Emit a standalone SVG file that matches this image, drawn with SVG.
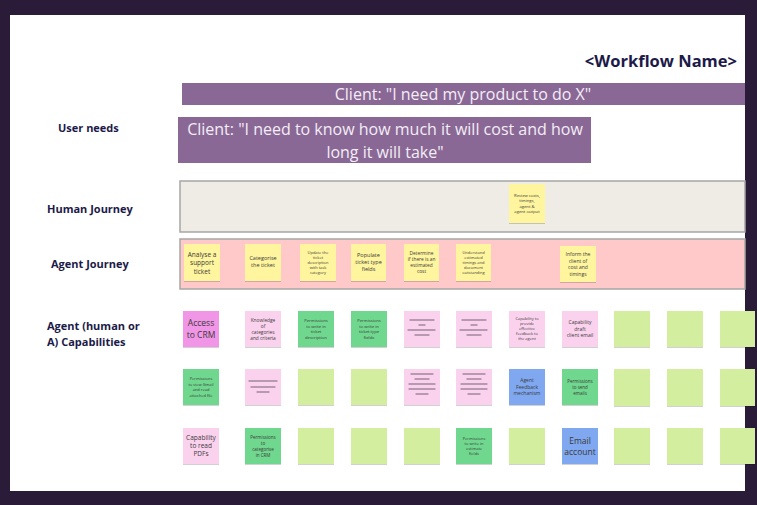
<svg xmlns="http://www.w3.org/2000/svg" width="757" height="505" viewBox="0 0 757 505">
<defs>
<filter id="sh" x="-10%" y="-10%" width="120%" height="130%"><feDropShadow dx="0" dy="1" stdDeviation="0.7" flood-color="#000" flood-opacity="0.18"/></filter>
</defs>
<style>
.lbl{font-family:"Open Sans","Liberation Sans",sans-serif;font-weight:700;font-size:11px;fill:#1c1a48}
.bar{fill:#8a6896}
.bt{font-family:"Open Sans","Liberation Sans",sans-serif;font-size:16px;fill:#f3edf5;text-anchor:middle}
.st{filter:url(#sh)}
.y{fill:#fff59e}.p{fill:#fbd2ee}.m{fill:#f195e6}.g{fill:#6fd78e}.lg{fill:#d3ee9f}.b{fill:#7fa8f0}
.t{font-family:"Open Sans","Liberation Sans",sans-serif;fill:#3a3a3a;text-anchor:middle}
.ln{stroke:#a3869f;stroke-width:1.3;stroke-linecap:round}
.band{stroke:#a6a6a6;stroke-width:1.5}
</style>
<rect x="0" y="0" width="757" height="505" fill="#2a1c38"/>
<rect x="10" y="15" width="735" height="476" fill="#ffffff"/>
<g id="title"><text x="737" y="67" style="font-family:'Open Sans','Liberation Sans',sans-serif;font-weight:700;font-size:16.5px;fill:#1c1a48;text-anchor:end">&lt;Workflow Name&gt;</text></g>
<g id="row-labels">
<text class="lbl" x="58" y="132">User needs</text>
<text class="lbl" x="47" y="213">Human Journey</text>
<text class="lbl" x="51" y="268">Agent Journey</text>
<text class="lbl" x="47" y="330">Agent (human or</text>
<text class="lbl" x="47" y="346">A) Capabilities</text>
</g>
<g id="need-1"><rect class="bar" x="182" y="83" width="563" height="22"/><text class="bt" x="463" y="100">Client: "I need my product to do X"</text></g>
<g id="need-2"><rect class="bar" x="178" y="117" width="413" height="46"/><text class="bt" x="385" y="135">Client: "I need to know how much it will cost and how</text><text class="bt" x="385" y="158">long it will take"</text></g>
<g id="human-journey-band"><rect class="band" x="180" y="181" width="565" height="51" fill="#efebe5"/></g>
<g id="agent-journey-band"><rect class="band" x="180" y="239" width="565" height="50" fill="#ffc9c9"/></g>
<g id="connectors"></g>
<g id="hj-review"><rect class="st y" x="509" y="184" width="36" height="39"/><text class="t" font-size="4.2"><tspan x="527" y="196.8">Review costs,</tspan><tspan x="527" y="202.3">timings,</tspan><tspan x="527" y="207.8">agent &amp;</tspan><tspan x="527" y="213.3">agent output</tspan></text></g>
<g id="aj-analyse"><rect class="st y" x="184" y="244" width="36" height="37"/><text class="t" font-size="6.5"><tspan x="202" y="256.5">Analyse a</tspan><tspan x="202" y="265">support</tspan><tspan x="202" y="273.5">ticket</tspan></text></g>
<g id="aj-categorise"><rect class="st y" x="245" y="244" width="36" height="37"/><text class="t" font-size="5.5"><tspan x="263" y="260">Categorise</tspan><tspan x="263" y="266.5">the ticket</tspan></text></g>
<g id="aj-update"><rect class="st y" x="300" y="244" width="36" height="37"/><text class="t" font-size="4"><tspan x="318" y="254">Update the</tspan><tspan x="318" y="259">ticket</tspan><tspan x="318" y="264">description</tspan><tspan x="318" y="269">with task</tspan><tspan x="318" y="274">category</tspan></text></g>
<g id="aj-populate"><rect class="st y" x="351" y="244" width="35" height="37"/><text class="t" font-size="5.5"><tspan x="368.5" y="257.4">Populate</tspan><tspan x="368.5" y="264.4">ticket type</tspan><tspan x="368.5" y="271.4">fields</tspan></text></g>
<g id="aj-determine"><rect class="st y" x="404" y="244" width="35" height="37"/><text class="t" font-size="4.8"><tspan x="421.5" y="255.2">Determine</tspan><tspan x="421.5" y="261.2">if there is an</tspan><tspan x="421.5" y="267.2">estimated</tspan><tspan x="421.5" y="273.2">cost</tspan></text></g>
<g id="aj-understand"><rect class="st y" x="456" y="244" width="35" height="37"/><text class="t" font-size="4"><tspan x="473.5" y="254">Understand</tspan><tspan x="473.5" y="259">estimated</tspan><tspan x="473.5" y="264">timings and</tspan><tspan x="473.5" y="269">document</tspan><tspan x="473.5" y="274">outstanding</tspan></text></g>
<g id="aj-inform"><rect class="st y" x="560" y="246" width="36" height="36"/><text class="t" font-size="5"><tspan x="578" y="256">Inform the</tspan><tspan x="578" y="262.5">client of</tspan><tspan x="578" y="269">cost and</tspan><tspan x="578" y="275.5">timings</tspan></text></g>
<g id="cap-r1c1"><rect class="st m" x="183" y="311" width="36" height="36"/><text class="t" font-size="8.5"><tspan x="201" y="325.8">Access</tspan><tspan x="201" y="337.6">to CRM</tspan></text></g>
<g id="cap-r1c2"><rect class="st p" x="245" y="311" width="36" height="36"/><text class="t" font-size="4.8"><tspan x="263" y="321.7">Knowledge</tspan><tspan x="263" y="327.7">of</tspan><tspan x="263" y="333.7">categories</tspan><tspan x="263" y="339.7">and criteria</tspan></text></g>
<g id="cap-r1c3"><rect class="st g" x="298" y="311" width="36" height="36"/><text class="t" font-size="4.2"><tspan x="316" y="322.2">Permissions</tspan><tspan x="316" y="327.7">to write in</tspan><tspan x="316" y="333.2">ticket</tspan><tspan x="316" y="338.7">description</tspan></text></g>
<g id="cap-r1c4"><rect class="st g" x="351" y="311" width="36" height="36"/><text class="t" font-size="4.2"><tspan x="369" y="322.2">Permissions</tspan><tspan x="369" y="327.7">to write in</tspan><tspan x="369" y="333.2">ticket type</tspan><tspan x="369" y="338.7">fields</tspan></text></g>
<g id="cap-r1c5"><rect class="st p" x="404" y="311" width="36" height="36"/><path class="ln" d="M410 320H434M419 325H425M408 330H435M415 335H429"/></g>
<g id="cap-r1c6"><rect class="st p" x="456" y="311" width="36" height="36"/><path class="ln" d="M462 320H486M471 325H477M460 330H487M467 335H481"/></g>
<g id="cap-r1c7"><rect class="st p" x="509" y="311" width="36" height="36"/><text class="t" font-size="4"><tspan x="527" y="320.4">Capability to</tspan><tspan x="527" y="325.4">provide</tspan><tspan x="527" y="330.4">effective</tspan><tspan x="527" y="335.4">feedback to</tspan><tspan x="527" y="340.4">the agent</tspan></text></g>
<g id="cap-r1c8"><rect class="st p" x="562" y="311" width="36" height="36"/><text class="t" font-size="5"><tspan x="580" y="324.2">Capability</tspan><tspan x="580" y="330.7">draft</tspan><tspan x="580" y="337.2">client email</tspan></text></g>
<g id="cap-r1c9"><rect class="st lg" x="614" y="311" width="36" height="36"/></g>
<g id="cap-r1c10"><rect class="st lg" x="667" y="311" width="36" height="36"/></g>
<g id="cap-r1c11"><rect class="st lg" x="720" y="311" width="35" height="36"/></g>
<g id="cap-r2c1"><rect class="st g" x="183" y="369" width="36" height="36"/><text class="t" font-size="4"><tspan x="201" y="380.2">Permissions</tspan><tspan x="201" y="385.7">to view Gmail</tspan><tspan x="201" y="391.2">and read</tspan><tspan x="201" y="396.7">attached file</tspan></text></g>
<g id="cap-r2c2"><rect class="st p" x="245" y="369" width="36" height="36"/><path class="ln" d="M249 381H277M251 387H275M257 392H269"/></g>
<g id="cap-r2c3"><rect class="st lg" x="298" y="369" width="36" height="36"/></g>
<g id="cap-r2c4"><rect class="st lg" x="351" y="369" width="36" height="36"/></g>
<g id="cap-r2c5"><rect class="st p" x="404" y="369" width="36" height="36"/><path class="ln" d="M411 374H433M415 379H429M409 384H435M409 389H435M416 394H428"/></g>
<g id="cap-r2c6"><rect class="st p" x="456" y="369" width="36" height="36"/><path class="ln" d="M463 374H485M467 379H481M461 384H487M461 389H487M468 394H480"/></g>
<g id="cap-r2c7"><rect class="st b" x="509" y="369" width="36" height="36"/><text class="t" font-size="5"><tspan x="527" y="382.2">Agent</tspan><tspan x="527" y="388.7">Feedback</tspan><tspan x="527" y="395.2">mechanism</tspan></text></g>
<g id="cap-r2c8"><rect class="st g" x="562" y="369" width="36" height="36"/><text class="t" font-size="4.5"><tspan x="580" y="382.6">Permissions</tspan><tspan x="580" y="388.6">to send</tspan><tspan x="580" y="394.6">emails</tspan></text></g>
<g id="cap-r2c9"><rect class="st lg" x="614" y="369" width="36" height="37"/></g>
<g id="cap-r2c10"><rect class="st lg" x="667" y="369" width="36" height="37"/></g>
<g id="cap-r2c11"><rect class="st lg" x="720" y="369" width="35" height="37"/></g>
<g id="cap-r3c1"><rect class="st p" x="183" y="428" width="36" height="36"/><text class="t" font-size="6.5"><tspan x="201" y="440.3">Capability</tspan><tspan x="201" y="448.3">to read</tspan><tspan x="201" y="456.3">PDFs</tspan></text></g>
<g id="cap-r3c2"><rect class="st g" x="245" y="428" width="36" height="36"/><text class="t" font-size="4.5"><tspan x="263" y="438.6">Permissions</tspan><tspan x="263" y="444.6">to</tspan><tspan x="263" y="450.6">categorise</tspan><tspan x="263" y="456.6">in CRM</tspan></text></g>
<g id="cap-r3c3"><rect class="st lg" x="298" y="428" width="36" height="36"/></g>
<g id="cap-r3c4"><rect class="st lg" x="351" y="428" width="36" height="36"/></g>
<g id="cap-r3c5"><rect class="st lg" x="404" y="428" width="36" height="36"/></g>
<g id="cap-r3c6"><rect class="st g" x="456" y="428" width="36" height="36"/><text class="t" font-size="4"><tspan x="474" y="439.9">Permissions</tspan><tspan x="474" y="444.9">to write in</tspan><tspan x="474" y="449.9">estimate</tspan><tspan x="474" y="454.9">fields</tspan></text></g>
<g id="cap-r3c7"><rect class="st lg" x="509" y="428" width="36" height="36"/></g>
<g id="cap-r3c8"><rect class="st b" x="562" y="428" width="36" height="36"/><text class="t" font-size="8.5"><tspan x="580" y="443.5">Email</tspan><tspan x="580" y="455">account</tspan></text></g>
<g id="cap-r3c9"><rect class="st lg" x="614" y="428" width="36" height="36"/></g>
<g id="cap-r3c10"><rect class="st lg" x="667" y="428" width="36" height="36"/></g>
<g id="cap-r3c11"><rect class="st lg" x="720" y="428" width="35" height="36"/></g>
</svg>
